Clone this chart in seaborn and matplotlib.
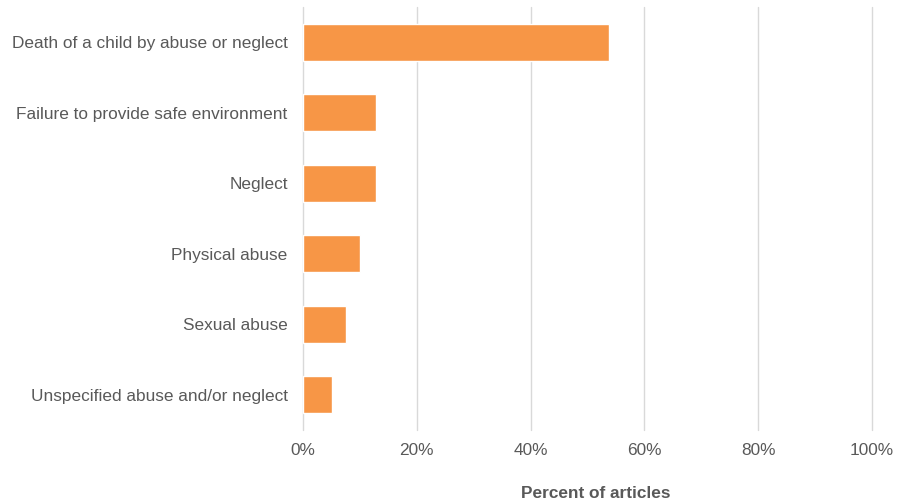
import matplotlib
matplotlib.use("Agg")
import matplotlib.pyplot as plt
import seaborn as sns
import pandas as pd
from matplotlib.ticker import PercentFormatter

categories = [
    "Death of a child by abuse or neglect",
    "Failure to provide safe environment",
    "Neglect",
    "Physical abuse",
    "Sexual abuse",
    "Unspecified abuse and/or neglect",
]
values = [53.8, 12.8, 12.8, 10.1, 7.6, 5.1]
xticks = [0, 20, 40, 60, 80, 100]

df = pd.DataFrame({"category": categories, "value": values})

sns.set_theme(style="white")
plt.rcParams["font.family"] = ["Liberation Sans", "DejaVu Sans"]

fig = plt.figure(figsize=(8.97, 5.03), dpi=100)
ax = fig.add_axes([0.3378, 0.1451, 0.6343, 0.8409])

sns.barplot(data=df, x="value", y="category", color="#F79646", saturation=1,
            width=0.52, ax=ax, zorder=3)

ax.set_xlim(0, 100)
ax.set_xticks(xticks)
ax.xaxis.set_major_formatter(PercentFormatter(decimals=0))
ax.grid(axis="x", color="#D9D9D9", linewidth=1.0, zorder=0)
for gl in ax.get_xgridlines():
    gl.set_clip_on(False)
ax.set_axisbelow(True)
for s in ax.spines.values():
    s.set_visible(False)
ax.tick_params(axis="y", length=0, pad=11, labelsize=12.4, labelcolor="#595959")
ax.tick_params(axis="x", length=0, pad=9, labelsize=12.4, labelcolor="#595959")
ax.set_ylabel("")
ax.set_xlabel("Percent of articles", fontsize=12.4, fontweight="bold",
              color="#595959")
ax.xaxis.set_label_coords(0.515, -0.133)

fig.savefig("out.png", dpi=100)
